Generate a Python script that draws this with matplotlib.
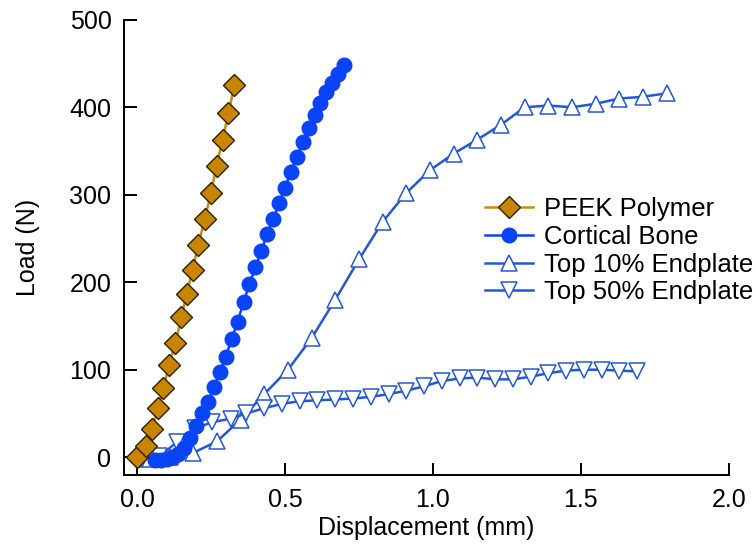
import numpy as np
import matplotlib
matplotlib.use("Agg")
import matplotlib.pyplot as plt

plt.rcParams['font.family'] = ['Liberation Sans', 'DejaVu Sans']

# PEEK Polymer
peek_x = [0.0, 0.030, 0.050, 0.070, 0.089, 0.108, 0.130, 0.150, 0.168, 0.188,
          0.207, 0.229, 0.250, 0.269, 0.289, 0.309, 0.329]
peek_y = [0, 13, 32, 56, 79, 105, 131, 160, 187, 214, 243, 272, 302, 333, 363, 393, 425]

# Cortical Bone
bone_x = [0.06, 0.08, 0.10, 0.12, 0.14, 0.16, 0.18, 0.20, 0.22, 0.24, 0.26, 0.28,
          0.30, 0.32, 0.34, 0.36, 0.38, 0.40, 0.42, 0.44, 0.46, 0.48, 0.50, 0.52,
          0.54, 0.56, 0.58, 0.60, 0.62, 0.64, 0.66, 0.68, 0.70]
bone_y = [-3, -3, -2, 0, 4, 11, 22, 36, 50, 63, 80, 97, 115, 135, 155, 177, 198,
          217, 236, 255, 272, 290, 308, 326, 343, 360, 376, 391, 405, 417, 428, 438, 448]

# Top 10% Endplate
top10_x = [0.03, 0.11, 0.19, 0.27, 0.35, 0.43, 0.51, 0.59, 0.67, 0.75, 0.83, 0.91,
           0.99, 1.07, 1.15, 1.23, 1.31, 1.39, 1.47, 1.55, 1.63, 1.71, 1.79]
top10_y = [-2, 0, 5, 18, 43, 72, 100, 136, 180, 226, 269, 302, 328, 347, 363, 380,
           400, 402, 400, 404, 410, 412, 416]

# Top 50% Endplate
top50_x = [0.016, 0.076, 0.134, 0.196, 0.254, 0.316, 0.37, 0.43, 0.49, 0.55, 0.61,
           0.67, 0.73, 0.79, 0.85, 0.91, 0.97, 1.03, 1.09, 1.15, 1.21, 1.27, 1.33,
           1.39, 1.45, 1.51, 1.57, 1.63, 1.69]
top50_y = [-2, 1, 17, 33, 40, 44, 50, 56, 61, 64, 65, 66, 67, 69, 72, 76, 81, 87,
           90, 91, 89, 89, 92, 96, 99, 100, 100, 99, 98]

fig = plt.figure(figsize=(7.56, 5.5), dpi=100)
ax = fig.add_axes([0.164, 0.136, 0.800, 0.828])

peek_col = '#C98A08'
bone_col = '#0844F5'
end_col = '#2457D2'

ax.plot(peek_x, peek_y, color=peek_col, lw=1.8, marker='D', ms=11,
        mfc='#C98500', mec='#2a2000', mew=1.0, label='PEEK Polymer', zorder=5)
ax.plot(bone_x, bone_y, color=bone_col, lw=1.8, marker='o', ms=10.5,
        mfc=bone_col, mec=bone_col, label='Cortical Bone', zorder=4)
ax.plot(top10_x, top10_y, color=end_col, lw=1.8, marker='^', ms=11.5,
        mfc='white', mec=end_col, mew=1.1, label='Top 10% Endplate', zorder=3)
ax.plot(top50_x, top50_y, color=end_col, lw=1.8, marker='v', ms=11.5,
        mfc='white', mec=end_col, mew=1.1, label='Top 50% Endplate', zorder=3)

ax.set_xlim(-0.044, 2.0)
ax.set_ylim(-20.6, 500)
ax.set_xticks([0.0, 0.5, 1.0, 1.5, 2.0])
ax.set_xticklabels(['0.0', '0.5', '1.0', '1.5', '2.0'])
ax.set_yticks([0, 100, 200, 300, 400, 500])

for s in ['top', 'right']:
    ax.spines[s].set_visible(False)
for s in ['left', 'bottom']:
    ax.spines[s].set_linewidth(1.4)
ax.tick_params(direction='in', length=9, width=1.4, labelsize=18, pad=9)

ax.set_xlabel('Displacement (mm)', fontsize=18, labelpad=3)
ax.set_ylabel('Load (N)', fontsize=18, labelpad=21)

ax.legend(loc='upper left', bbox_to_anchor=(0.597, 0.61), frameon=False,
          fontsize=18.5, handlelength=1.85, handletextpad=0.45, labelspacing=0.14,
          borderaxespad=0, borderpad=0)

fig.savefig('out.png', dpi=100)
